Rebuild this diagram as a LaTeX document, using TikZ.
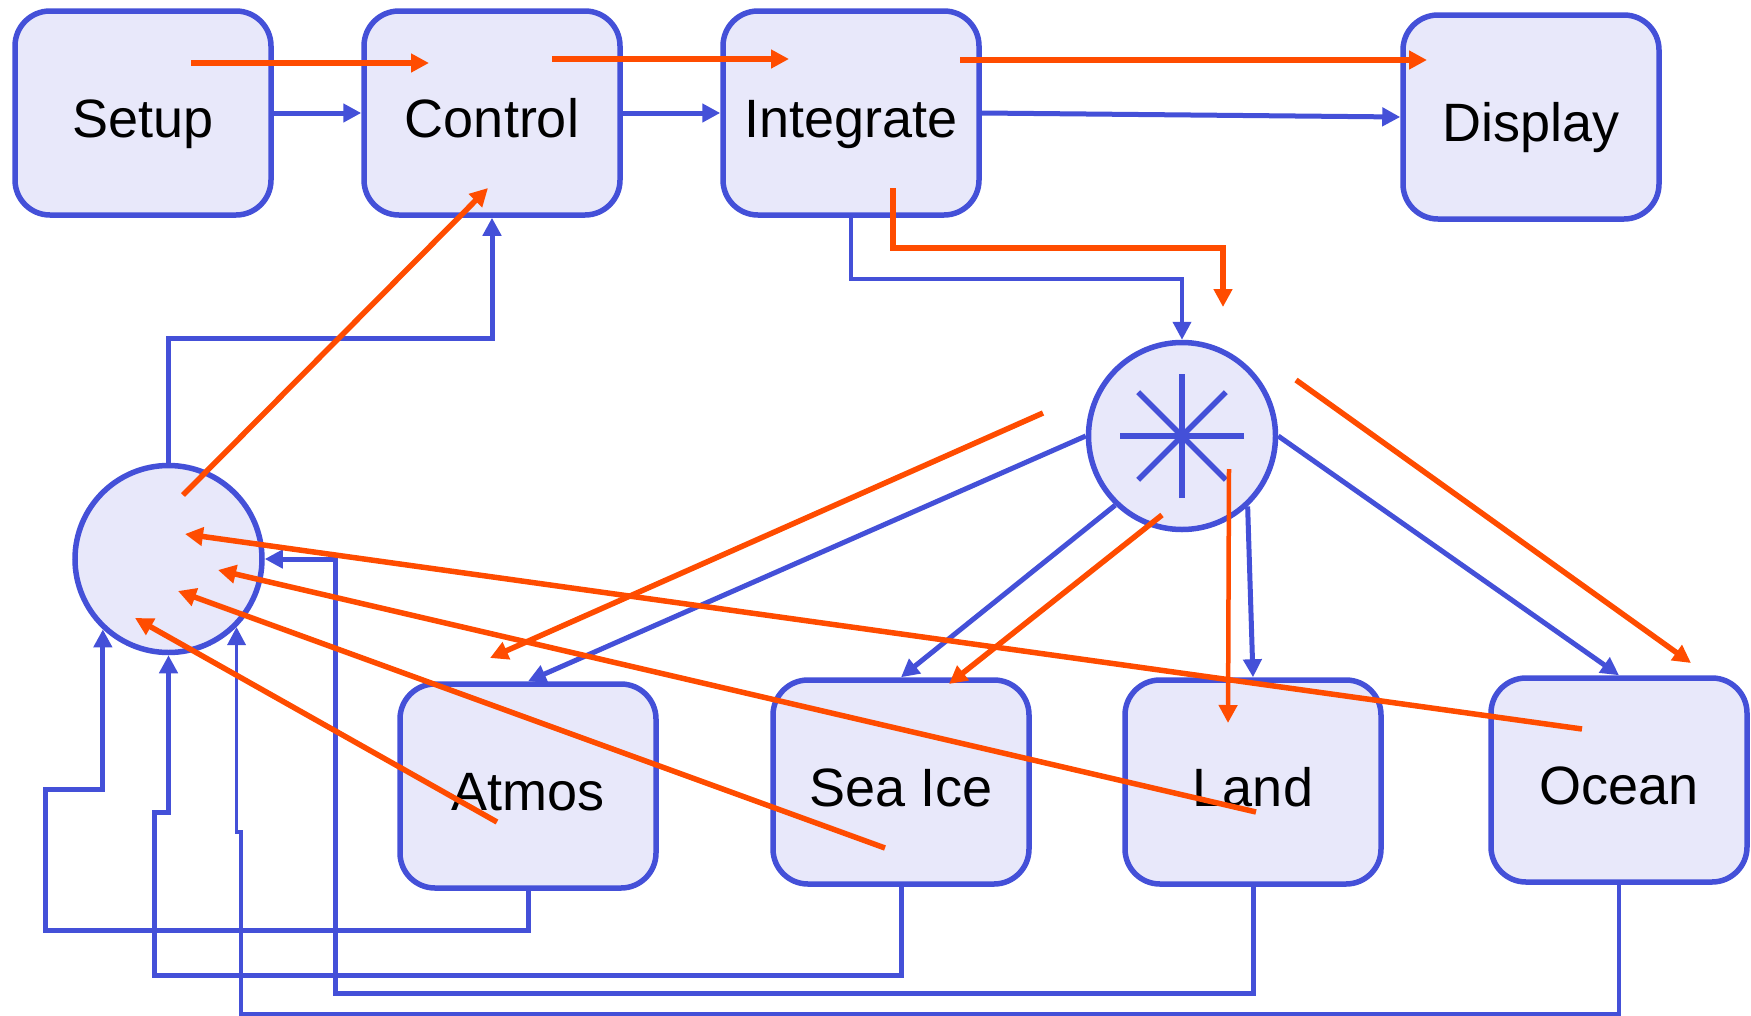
\documentclass[tikz,border=0pt]{standalone}
\usepackage{fontspec}
\setmainfont{Liberation Sans}
\usetikzlibrary{arrows.meta}
\definecolor{bblue}{HTML}{4450D8}
\definecolor{bfill}{HTML}{E8E8FA}
\definecolor{sig}{HTML}{FF4C00}
\begin{document}
\begin{tikzpicture}[x=1pt,y=-1pt,
  module/.style={draw=bblue, fill=bfill, line width=5.5pt, rounded corners=35pt,
    minimum width=256pt, minimum height=204pt, text height=48pt, text depth=0pt,
    inner sep=0pt, font=\fontsize{54}{60}\selectfont},
  hubnode/.style={circle, draw=bblue, fill=bfill, line width=5.5pt,
    minimum size=187pt, inner sep=0pt},
  flow/.style={draw=bblue, line width=5pt, -{Triangle[length=18pt,width=18pt]}},
  ctrl/.style={draw=sig, line width=5.5pt, -{Triangle[length=18pt,width=18pt]}},
  spoke/.style={draw=bblue, line width=5.5pt},
]
\fill[white] (0,0) rectangle (1751,1015);
\useasboundingbox (0,0) rectangle (1751,1015);

% driver boxes along the top
\node[module] (setup)     at (143,113)  {Setup};
\node[module] (control)   at (492,113)  {Control};
\node[module] (integrate) at (851,113)  {Integrate};
\node[module] (display)   at (1531,117) {Display};

% coupler hub and gathering circle
\node[hubnode] (hub) at (1182,436) {};
\node[hubnode] (lc)  at (168.5,559) {};
\foreach \a in {0,45,90,135}
  \draw[spoke] (hub.center) +(\a:62) -- +(\a+180:62);

% component models
\node[module] (atmos)  at (528,786)  {Atmos};
\node[module] (seaice) at (901,782)  {Sea Ice};
\node[module] (land)   at (1253,782) {Land};
\node[module] (ocean)  at (1619,780) {Ocean};

% data flow (blue)
\draw[flow] (setup.east) -- (control.west);
\draw[flow] (control.east) -- (integrate.west);
\draw[flow] (integrate.east) -- (display.west);
\draw[flow, line width=4pt] (integrate.south) -- ++(0,61) -| (hub.north);
\draw[flow] (lc.north) -- ++(0,-124) -| (control.south);
\draw[flow] (hub.west) -- (atmos.north);
\draw[flow] (hub.226) -- (seaice.north);
\draw[flow] (hub.-47) -- (land.north);
\draw[flow] (hub.east) -- (ocean.north);
\draw[flow] (atmos.south) -- ++(0,40) -| (45,789) -| (lc.227);
\draw[flow] (seaice.south) -- ++(0,89) -| (154,812) -| (lc.south);
\draw[flow] (land.south) -- ++(0,107) -| (335,559) -- (lc.east);
\draw[flow, line width=3.5pt] (ocean.south) -- ++(0,129) -| (241,832) -| (lc.-45);

% control signal end points
\coordinate (c1a) at (191,63);   \coordinate (c1b) at (429,63);
\coordinate (c2a) at (552,59);   \coordinate (c2b) at (789,59);
\coordinate (c3a) at (960,60);   \coordinate (c3b) at (1427,60);
\coordinate (c4a) at (893,188);  \coordinate (c4b) at (1223,307);
\coordinate (c5a) at (183,495);  \coordinate (c5b) at (488,188);
\coordinate (c6a) at (1043,413); \coordinate (c6b) at (490,658);
\coordinate (c7a) at (1162,515); \coordinate (c7b) at (949,684);
\coordinate (c8a) at (1229,469); \coordinate (c8b) at (1228,723);
\coordinate (c9a) at (1296,380); \coordinate (c9b) at (1691,663);
\coordinate (r1a) at (497,822);  \coordinate (r1b) at (135,618);
\coordinate (r2a) at (885,848);  \coordinate (r2b) at (178,591);
\coordinate (r3a) at (1256,812); \coordinate (r3b) at (218,570);
\coordinate (r4a) at (1582,729); \coordinate (r4b) at (185,534);

% control flow (orange)
\draw[ctrl] (c1a) -- (c1b);
\draw[ctrl] (c2a) -- (c2b);
\draw[ctrl] (c3a) -- (c3b);
\draw[ctrl] (c4a) -- ++(0,60) -| (c4b);
\draw[ctrl] (c5a) -- (c5b);
\draw[ctrl] (c6a) -- (c6b);
\draw[ctrl] (c7a) -- (c7b);
\draw[ctrl, line width=4.5pt] (c8a) -- (c8b);
\draw[ctrl] (c9a) -- (c9b);
\draw[ctrl] (r1a) -- (r1b);
\draw[ctrl] (r2a) -- (r2b);
\draw[ctrl] (r3a) -- (r3b);
\draw[ctrl] (r4a) -- (r4b);
\end{tikzpicture}
\end{document}
